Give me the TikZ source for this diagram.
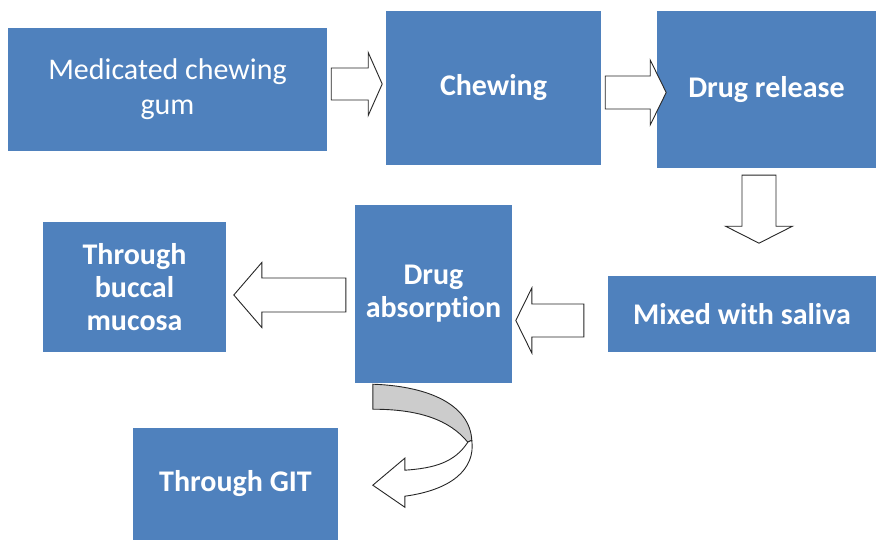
\documentclass[tikz,border=0pt]{standalone}
\usepackage{fontspec}
\setmainfont{Carlito}[Ligatures=NoCommon]
\usetikzlibrary{calc}
\definecolor{boxblue}{HTML}{4F81BD}

\begin{document}
\begin{tikzpicture}[x=1pt, y=-1pt,
        box/.style={fill=boxblue, text=white, inner sep=0pt, align=center,
            font=\fontsize{30}{33}\selectfont\bfseries},
        blockarrow/.style={draw=black!85, fill=white, line width=0.9pt, line join=miter},
        pics/barrow/.style args={#1/#2/#3/#4}{code={
            \draw[blockarrow] (0,-#2/2) -- (#1-#4,-#2/2) -- (#1-#4,-#3/2) -- (#1,0)
                -- (#1-#4,#3/2) -- (#1-#4,#2/2) -- (0,#2/2) -- cycle;}}]
        \useasboundingbox (0,0) rectangle (877,540);

        \node[box, minimum width=319pt, minimum height=123pt,
            font=\fontsize{30}{35}\selectfont] (med) at (167.5,89.5) {Medicated chewing\\gum};
        \node[box, minimum width=215pt, minimum height=154pt] (chew) at (493.5,88) {Chewing};
        \node[box, minimum width=219pt, minimum height=157pt] (rel) at (766.5,89.5) {Drug release};
        \node[box, minimum width=268pt, minimum height=76pt] (mix) at (742,314) {Mixed with saliva};
        \node[box, minimum width=157pt, minimum height=178pt] (absorb) at (433.5,294) {Drug\\absorption};
        \node[box, minimum width=183pt, minimum height=130pt] (buccal) at (134.5,287) {Through\\buccal\\mucosa};
        \node[box, minimum width=205pt, minimum height=112pt] (git) at (235.5,484) {Through GIT};

        % block arrows between the boxes
        \pic at ($(med.east)+(4,-5.5)$) {barrow=51/32/63/14};
        \pic at ($(chew.east)+(4,4.5)$) {barrow=61/33/65/16};
        \pic[rotate=-90] at ($(rel.south)+(-7.5,7)$) {barrow=68/34/67/17};
        \pic[rotate=180] at ($(mix.west)+(-24,6.5)$) {barrow=68/33/65/16};
        \pic[rotate=180] at ($(absorb.west)+(-9,1)$) {barrow=112/34/65/28};

        % curved arrow down to GIT
        \begin{scope}[shift={(absorb.south west)}]
            \draw[blockarrow, fill=black!20]
            (18,1) .. controls (75,3) and (115,22) .. (117,57)
            -- (113,59) .. controls (95,37) and (65,26) .. (18,26) -- cycle;
            \draw[blockarrow]
            (113,59) .. controls (100,79) and (80,85) .. (50,87)
            -- (50,75) -- (18,102) -- (50,124) -- (50,113)
            .. controls (95,107) and (121,87) .. (117,57) -- cycle;
        \end{scope}
    \end{tikzpicture}
\end{document}
